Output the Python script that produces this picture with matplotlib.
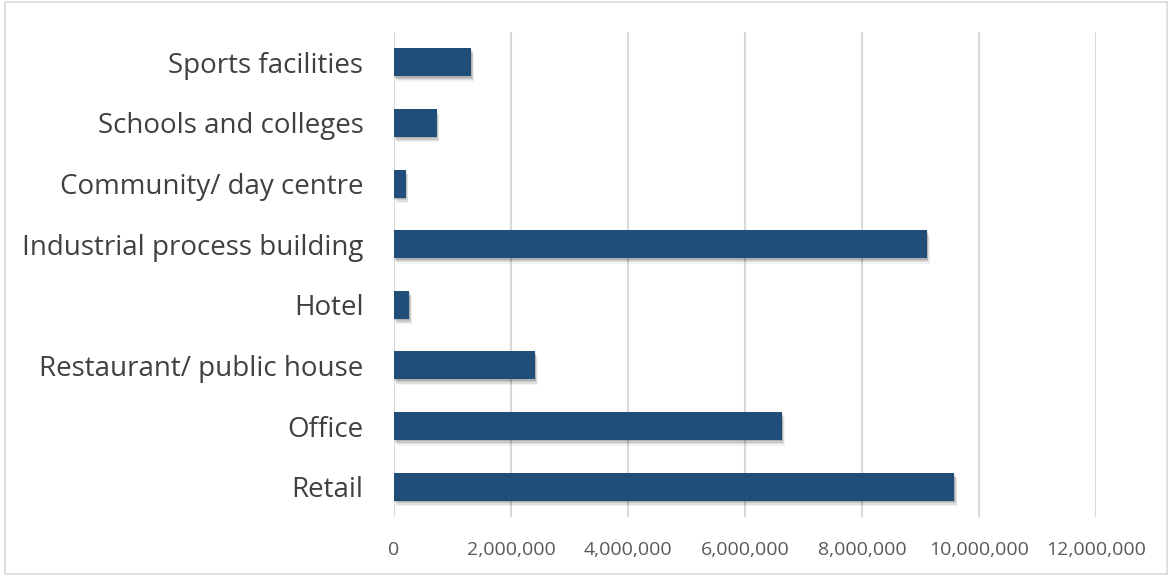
import matplotlib.pyplot as plt
import matplotlib.patheffects as pe
from matplotlib.ticker import FuncFormatter

# building types, bottom to top
categories = ['Retail', 'Office', 'Restaurant/ public house', 'Hotel',
              'Industrial process building', 'Community/ day centre',
              'Schools and colleges', 'Sports facilities']
values = [9580000, 6630000, 2410000, 260000, 9110000, 200000, 730000, 1320000]
x_ticks = [0, 2000000, 4000000, 6000000, 8000000, 10000000, 12000000]

plt.rcParams['font.family'] = ['Open Sans', 'DejaVu Sans']

fig = plt.figure(figsize=(11.71, 5.76), dpi=100)
ax = fig.add_axes([394 / 1171, 1 - 517 / 576, (1096 - 394) / 1171, (517 - 32) / 576])

bars = ax.barh(range(len(categories)), values, height=0.46, color='#1f4e79', zorder=3)
# soft drop shadow built from a few faint offset copies
shadow = [pe.SimplePatchShadow(offset=(dx, dy), shadow_rgbFace='black', alpha=a)
          for dx, dy, a in [(0.5, -1, 0.12), (1, -2, 0.10), (1.5, -3, 0.08), (2, -4, 0.05)]]
for b in bars:
    b.set_path_effects(shadow + [pe.Normal()])

ax.set_xlim(0, 12000000)
ax.set_ylim(-0.5, len(categories) - 0.5)
ax.set_xticks(x_ticks)
ax.xaxis.set_major_formatter(FuncFormatter(lambda v, p: f'{int(v):,}'))
ax.set_yticks(range(len(categories)))
ax.set_yticklabels(categories)
ax.tick_params(axis='y', length=0, pad=22, labelsize=20, labelcolor='#404040')
ax.tick_params(axis='x', length=0, pad=17, labelsize=14, labelcolor='#595959')
ax.grid(axis='x', color='#d9d9d9', linewidth=1.5, zorder=0)
for s in ax.spines.values():
    s.set_visible(False)

# outer chart border
fig.patches.append(plt.Rectangle((5 / 1171, 2 / 576), 1162 / 1171, 572 / 576,
                                 transform=fig.transFigure, fill=False,
                                 edgecolor='#d9d9d9', linewidth=1.2))

plt.savefig('out.png', dpi=100)
